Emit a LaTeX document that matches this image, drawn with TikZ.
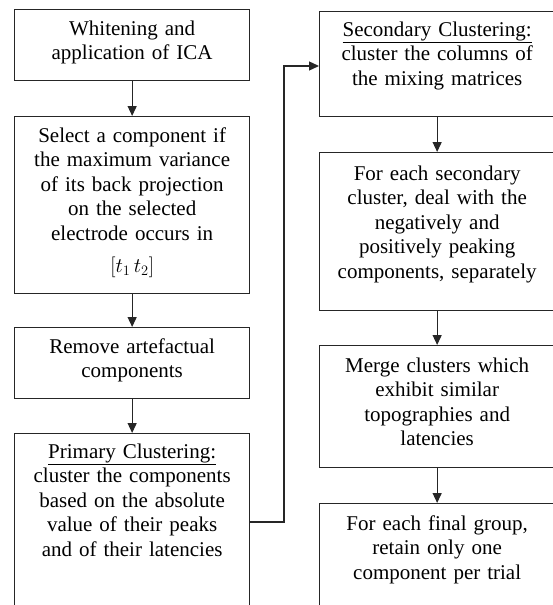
\documentclass[tikz,border=0pt]{standalone}
\usepackage{fontspec}
\setmainfont{Liberation Serif}
\usetikzlibrary{arrows.meta}
\newcommand{\fstrut}{\rule{0pt}{18pt}}
\tikzset{
  x=1pt, y=-1pt,
  boxnode/.style={draw=black!85, line width=1.3pt, minimum width=235pt, inner sep=0pt, anchor=north west},
  txt/.style={anchor=north, inner sep=0pt, text width=232pt, align=center,
    font=\fontsize{21}{24.5}\selectfont},
  conn/.style={draw=black!85, line width=1.3pt, -{Triangle[length=10pt,width=9pt]}}
}
\begin{document}
\begin{tikzpicture}
\useasboundingbox (0,0) rectangle (553,605);
\clip (0,0) rectangle (553,605);
% left column
\node[boxnode, minimum height=71pt] (b1) at (14,9) {};
\node[boxnode, minimum height=177pt] (b2) at (14,116) {};
\node[boxnode, minimum height=71pt] (b3) at (14,327) {};
\node[boxnode, minimum height=200pt] (b4) at (14,433) {};
% right column
\node[boxnode, minimum height=105pt] (r1) at (319,11) {};
\node[boxnode, minimum height=158pt] (r2) at (319,152) {};
\node[boxnode, minimum height=122pt] (r3) at (319,345) {};
\node[boxnode, minimum height=200pt] (r4) at (319,503) {};
% texts
\node[txt] (t1) at ([yshift=-8pt]b1.north) {\fstrut Whitening and\\application of ICA};
\node[txt] (t2) at ([yshift=-8pt]b2.north) {\fstrut Select a component if\\the maximum variance\\of its back projection\\on the selected\\electrode occurs in\\[8pt]$\Bigl[t_1\,t_2\Bigr]$};
\node[txt] (t3) at ([yshift=-8pt]b3.north) {\fstrut Remove artefactual\\components};
\node[txt] (t4) at ([yshift=-7pt]b4.north) {\fstrut \underline{Primary Clustering:}\\cluster the components\\based on the absolute\\value of their peaks\\and of their latencies};
\node[txt] (u1) at ([yshift=-7pt]r1.north) {\fstrut \underline{Secondary Clustering:}\\cluster the columns of\\the mixing matrices};
\node[txt] (u2) at ([yshift=-10pt]r2.north) {\fstrut For each secondary\\cluster, deal with the\\negatively and\\positively peaking\\components, separately};
\node[txt] (u3) at ([yshift=-9pt]r3.north) {\fstrut Merge clusters which\\exhibit similar\\topographies and\\latencies};
\node[txt] (u4) at ([yshift=-9pt]r4.north) {\fstrut For each final group,\\retain only one\\component per trial};
% connectors
\draw[conn] (b1.south) -- (b2.north);
\draw[conn] (b2.south) -- (b3.north);
\draw[conn] (b3.south) -- (b4.north);
\draw[conn] (r1.south) -- (r2.north);
\draw[conn] (r2.south) -- (r3.north);
\draw[conn] (r3.south) -- (r4.north);
\coordinate (c1) at (b4.east |- 0,522);
\coordinate (c2) at (284,522);
\coordinate (c3) at (284,66);
\coordinate (c4) at (r1.west |- 0,66);
\draw[conn] (c1) -- (c2) -- (c3) -- (c4);
\end{tikzpicture}
\end{document}
